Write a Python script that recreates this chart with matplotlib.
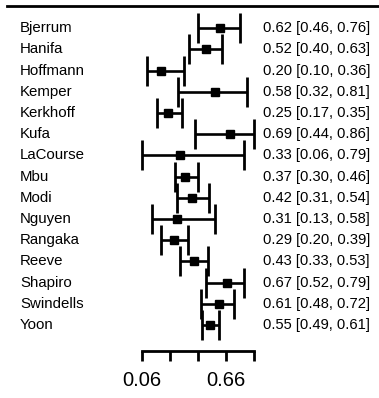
import matplotlib
matplotlib.use("Agg")
import matplotlib.pyplot as plt
import matplotlib.transforms as mtransforms

plt.rcParams['font.family'] = ['Liberation Sans', 'DejaVu Sans']

studies = ['Bjerrum', 'Hanifa', 'Hoffmann', 'Kemper', 'Kerkhoff', 'Kufa', 'LaCourse',
           'Mbu', 'Modi', 'Nguyen', 'Rangaka', 'Reeve', 'Shapiro', 'Swindells', 'Yoon']
est = [0.62, 0.52, 0.20, 0.58, 0.25, 0.69, 0.33, 0.37, 0.42, 0.31, 0.29, 0.43, 0.67, 0.61, 0.55]
lo = [0.46, 0.40, 0.10, 0.32, 0.17, 0.44, 0.06, 0.30, 0.31, 0.13, 0.20, 0.33, 0.52, 0.48, 0.49]
hi = [0.76, 0.63, 0.36, 0.81, 0.35, 0.86, 0.79, 0.46, 0.54, 0.58, 0.39, 0.53, 0.79, 0.72, 0.61]
tick_vals = [0.06, 0.26, 0.46, 0.66, 0.86]
tick_labels = ['0.06', '', '', '0.66', '']

fig = plt.figure(figsize=(3.79, 3.98), dpi=100)
ax = fig.add_axes([0, 0, 1, 1])
ax.set_xlim(-0.949, 1.750)
ax.set_ylim(17.44, -1.335)

rows = list(range(len(studies)))
err = [[e - l for e, l in zip(est, lo)], [h - e for e, h in zip(est, hi)]]
ax.errorbar(est, rows, xerr=err, fmt='s', color='black', ms=5.5, lw=1.9,
            capsize=10.8, capthick=2.0, ecolor='black')

trans = mtransforms.blended_transform_factory(ax.transAxes, ax.transData)
for i, name in enumerate(studies):
    ax.text(20 / 379, i, name, transform=trans, ha='left', va='center', fontsize=10.8)
    ax.text(263 / 379, i, f"{est[i]:.2f} [{lo[i]:.2f}, {hi[i]:.2f}]",
            transform=trans, ha='left', va='center', fontsize=10.6)

ax.axhline(-1.06, xmin=7 / 379, xmax=1, color='black', lw=2)

for s in ['top', 'left', 'right']:
    ax.spines[s].set_visible(False)
ax.spines['bottom'].set_position(('data', 15.2))
ax.spines['bottom'].set_bounds(tick_vals[0], tick_vals[-1])
ax.spines['bottom'].set_linewidth(2)
ax.set_xticks(tick_vals)
ax.set_xticklabels(tick_labels, fontsize=14.5)
ax.tick_params(axis='x', direction='out', length=7.5, width=2, pad=7)
ax.set_yticks([])
ax.patch.set_visible(False)

fig.savefig('out.png', dpi=100)
